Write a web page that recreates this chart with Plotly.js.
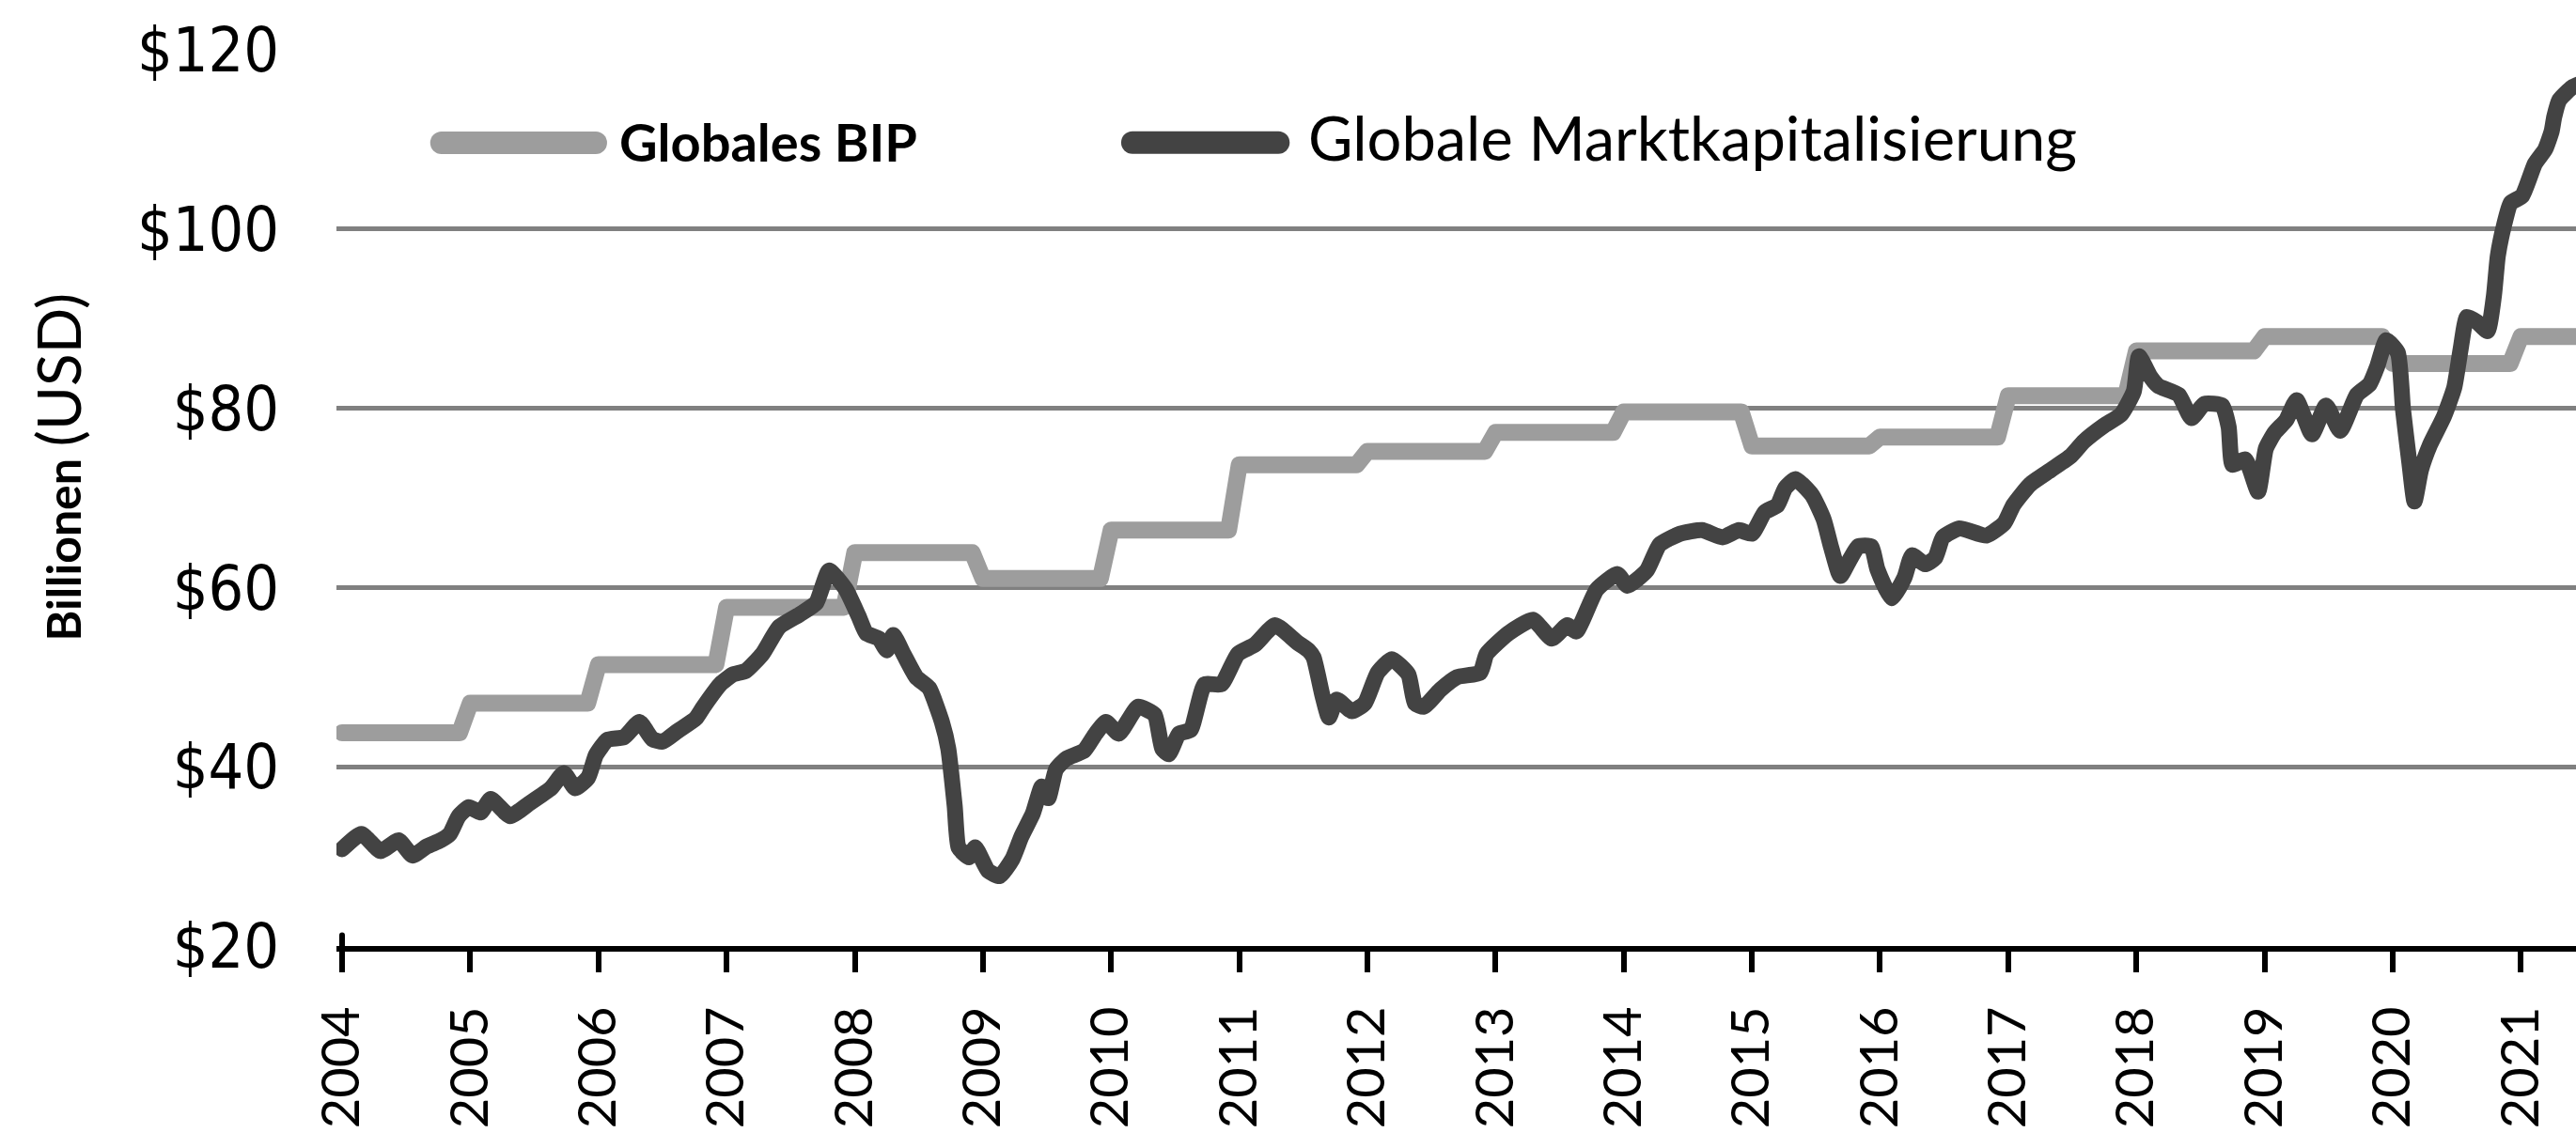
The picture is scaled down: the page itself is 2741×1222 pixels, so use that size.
<!DOCTYPE html>
<html><head><meta charset="utf-8">
<script src="https://cdn.plot.ly/plotly-3.0.1.min.js"></script>
<style>
html,body{margin:0;padding:0;background:#fff;}
#chart{width:2741px;height:1222px;}
.scatterlayer .js-line{stroke-linecap:round;stroke-linejoin:round;}
.shapelayer path{stroke-linecap:round;}
</style></head><body><div id="chart"></div>
<script>
// Globales BIP (annual, trillion USD)
const gdpYears  = [2004,2005,2006,2007,2008,2009,2010,2011,2012,2013,2014,2015,2016,2017,2018,2019,2020,2021];
const gdpValues = [43.8,47.1,51.4,57.8,63.9,61.0,66.4,73.7,75.2,77.3,79.6,75.8,76.8,81.4,86.4,88.0,85.0,88.0];

// Globale Marktkapitalisierung
const mcDates = [
2004.00,2004.15,2004.30,2004.44,2004.55,2004.66,2004.77,2004.84,2004.91,2004.99,
2005.08,2005.16,2005.31,2005.46,2005.63,2005.73,2005.82,2005.92,2005.98,
2006.07,2006.20,2006.32,2006.42,2006.50,2006.62,2006.76,2006.82,2006.95,
2007.05,2007.15,2007.28,2007.41,2007.57,2007.70,2007.80,2007.93,
2008.03,2008.09,2008.19,2008.25,2008.30,2008.38,2008.48,2008.58,2008.68,2008.73,2008.78,2008.81,2008.89,2008.94,
2009.04,2009.13,2009.23,2009.30,2009.39,2009.46,2009.51,2009.57,2009.65,2009.79,2009.88,2009.96,
2010.06,2010.21,2010.34,2010.40,2010.45,2010.53,2010.62,2010.73,2010.86,2010.99,
2011.12,2011.28,2011.45,2011.54,2011.58,2011.65,2011.70,2011.76,2011.88,2011.98,
2012.08,2012.19,2012.32,2012.37,2012.44,2012.57,2012.70,2012.88,2012.93,
2013.10,2013.29,2013.44,2013.56,2013.63,2013.79,2013.95,
2014.03,2014.18,2014.28,2014.44,2014.61,2014.77,2014.90,
2015.00,2015.10,2015.20,2015.26,2015.34,2015.47,2015.56,2015.62,2015.69,2015.76,2015.83,2015.93,2015.98,
2016.09,2016.19,2016.25,2016.35,2016.43,2016.49,2016.62,2016.83,2016.97,
2017.04,2017.17,2017.33,2017.49,2017.59,2017.75,2017.88,2017.98,
2018.02,2018.11,2018.17,2018.33,2018.43,2018.53,2018.67,2018.72,2018.75,2018.85,2018.95,
2019.01,2019.08,2019.17,2019.25,2019.37,2019.48,2019.59,2019.72,2019.82,2019.88,2019.95,
2020.04,2020.08,2020.13,2020.17,2020.22,2020.29,2020.40,2020.48,2020.53,2020.58,2020.66,2020.74,2020.79,2020.82,2020.87,2020.92,
2021.01,2021.11,2021.19,2021.24,2021.26,2021.30,2021.40,2021.48];
const mcValues = [
30.8,32.5,30.6,31.8,30.1,31.1,31.8,32.5,34.5,35.5,
34.9,36.4,34.5,35.9,37.6,39.3,37.6,38.8,41.3,
43.0,43.3,45.0,43.1,42.8,44.0,45.4,46.7,49.2,
50.3,50.7,52.6,55.6,57.0,58.3,61.9,59.8,
56.8,54.9,54.3,53.0,54.7,52.6,50.0,48.8,45.0,42.0,35.6,31.0,29.9,31.0,
28.4,27.8,29.7,32.2,34.8,37.8,36.5,39.7,40.9,41.8,43.7,45.0,
43.7,46.7,45.8,42.0,41.4,43.7,44.1,49.2,49.2,52.6,
53.6,55.8,53.9,53.0,52.2,47.9,45.5,47.5,46.2,47.1,
50.5,52.0,50.3,47.1,46.7,48.6,50.0,50.5,52.6,
54.9,56.4,54.3,55.8,55.1,59.8,61.5,
60.2,61.9,64.8,66.0,66.4,65.6,66.4,
66.0,68.4,69.2,71.1,72.1,70.3,67.6,64.4,61.3,63.0,64.6,64.6,62.0,
58.8,61.1,63.6,62.6,63.3,65.6,66.6,65.8,67.2,
69.2,71.5,73.1,74.7,76.3,78.1,79.3,81.9,
85.8,83.5,82.5,81.5,78.9,80.5,80.3,77.9,73.7,74.3,70.7,
75.5,77.3,78.7,80.9,77.1,80.3,77.5,81.5,82.7,84.7,87.6,
86.2,79.9,73.9,69.6,73.1,75.9,79.1,82.3,86.6,90.2,89.6,88.6,92.6,97.0,100.5,102.9,
103.7,107.3,108.9,110.9,112.5,114.4,115.8,116.3];

const yearTicks  = [2004,2005,2006,2007,2008,2009,2010,2011,2012,2013,2014,2015,2016,2017,2018,2019,2020,2021];
const yearLabels = yearTicks.map(String);
const yTicks  = [20,40,60,80,100,120];
const yLabels = ['$20','$40','$60','$80','$100','$120'];
const seriesNames = ['Globales BIP','Globale Marktkapitalisierung'];
const yTitle = ['Billionen','(USD)'];

// monthly representation of the annual GDP values (one value per calendar year)
const gdpX = [], gdpY = [];
gdpYears.forEach((yr, i) => { for (let m = 0; m < 12; m++) { gdpX.push(yr + m/12); gdpY.push(gdpValues[i]); } });

const GDP_COLOR = '#9d9d9d', MC_COLOR = '#434343';

const traces = [
  {x: gdpX, y: gdpY, type: 'scatter', mode: 'lines', name: seriesNames[0],
   line: {color: GDP_COLOR, width: 18}, hoverinfo: 'skip'},
  {x: mcDates, y: mcValues, type: 'scatter', mode: 'lines', name: seriesNames[1],
   line: {color: MC_COLOR, width: 17, shape: 'spline', smoothing: 0.5}, hoverinfo: 'skip'}
];

const layout = {
  width: 2741, height: 1222,
  margin: {l: 358, r: 0, t: 53, b: 215},
  paper_bgcolor: '#ffffff', plot_bgcolor: '#ffffff',
  showlegend: false,
  xaxis: {
    range: [2003.956, 2021.43], showgrid: false, zeroline: false,
    showline: true, linecolor: '#000', linewidth: 6,
    ticks: 'outside', ticklen: 22, tickwidth: 6, tickcolor: '#000',
    tickvals: yearTicks, ticktext: yearLabels, tickangle: -90,
    tickfont: {family: 'Lato, "Open Sans", sans-serif', size: 56, color: '#000'},
    ticklabelstandoff: 14
  },
  yaxis: {
    range: [20, 120], showgrid: true, gridcolor: '#808080', gridwidth: 5,
    zeroline: false, showline: false, ticks: '',
    tickvals: yTicks, ticktext: yLabels,
    tickfont: {family: '"Liberation Sans Narrow", "DejaVu Sans Condensed", Roboto, sans-serif', size: 66, color: '#000'},
    ticklabelstandoff: 60
  },
  shapes: [
    {type: 'line', xref: 'paper', yref: 'paper', x0: 0.0469, x1: 0.1158, y0: 0.8962, y1: 0.8962,
     line: {color: GDP_COLOR, width: 24}},
    {type: 'line', xref: 'paper', yref: 'paper', x0: 0.3554, x1: 0.4206, y0: 0.8966, y1: 0.8966,
     line: {color: MC_COLOR, width: 24}},
    {type: 'line', xref: 'x', yref: 'paper', x0: yearTicks[0], x1: yearTicks[0], y0: 0, y1: 0.012,
     line: {color: '#000', width: 6}}
  ],
  annotations: [
    {xref: 'paper', yref: 'paper', x: 0.1253, y: 0.8983, xanchor: 'left', yanchor: 'middle', showarrow: false,
     text: '<b>' + seriesNames[0] + '</b>', font: {family: 'Lato, sans-serif', size: 56, color: '#000'}},
    {xref: 'paper', yref: 'paper', x: 0.4330, y: 0.9025, xanchor: 'left', yanchor: 'middle', showarrow: false,
     text: seriesNames[1], font: {family: 'Lato, sans-serif', size: 65, color: '#000'}},
    {xref: 'paper', yref: 'paper', x: -0.1244, y: 0.5346, xanchor: 'center', yanchor: 'middle', showarrow: false,
     textangle: -90,
     text: '<b>' + yTitle[0] + '</b> <span style="font-size:64px">' + yTitle[1] + '</span>',
     font: {family: 'Lato, sans-serif', size: 50, color: '#000'}}
  ]
};

Plotly.newPlot('chart', traces, layout, {staticPlot: true, displayModeBar: false});
</script></body></html>
